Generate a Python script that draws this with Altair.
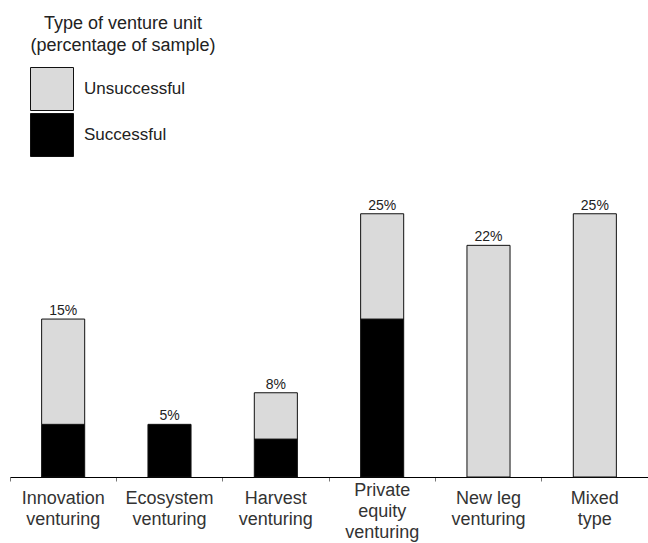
import altair as alt
import pandas as pd

# Venture unit types; "\n" marks where the axis label wraps
categories = [
    "Innovation\nventuring",
    "Ecosystem\nventuring",
    "Harvest\nventuring",
    "Private\nequity\nventuring",
    "New leg\nventuring",
    "Mixed\ntype",
]
# Share of the sample for each type (%), and the successful part of it
totals = [15, 5, 8, 25, 22, 25]
successful = [5, 5, 3.6, 15, 0, 0]

outcomes = ["Unsuccessful", "Successful"]
colors = ["#dadada", "#000000"]

rows = []
for cat, tot, suc in zip(categories, totals, successful):
    parts = {"Successful": suc, "Unsuccessful": tot - suc}
    for k, name in enumerate(["Successful", "Unsuccessful"]):
        if parts[name] > 0:
            rows.append({"category": cat, "outcome": name, "value": parts[name], "stack_order": k})
df = pd.DataFrame(rows)

labels = pd.DataFrame({
    "category": categories,
    "total": totals,
    "label": [f"{t}%" for t in totals],
})

font = "Liberation Sans"

x_enc = alt.X(
    "category:N",
    sort=categories,
    scale=alt.Scale(paddingInner=0, paddingOuter=0),
    axis=alt.Axis(
        title=None,
        labelAngle=0,
        labelExpr="split(datum.label, '\\n')",
        labelFont=font,
        labelFontSize=18,
        labelColor="#333333",
        labelBaseline="top",
        labelLineHeight=21,
        # three-line label sits a little higher so it stays centred
        labelPadding=alt.condition("indexof(datum.label, 'equity') >= 0", alt.value(0), alt.value(8)),
        labelLimit=0,
        bandPosition=0,
        ticks=True,
        tickSize=4,
        tickColor="#777777",
        domainColor="#000000",
        domainWidth=1,
        grid=False,
    ),
)
y_scale = alt.Scale(domain=[0, 45.3], nice=False, zero=True)

bars = alt.Chart(df).mark_bar(
    width=alt.RelativeBandSize(0.405), stroke="#111111", strokeWidth=1
).encode(
    x=x_enc,
    y=alt.Y("value:Q", stack="zero", scale=y_scale, axis=None),
    color=alt.Color(
        "outcome:N",
        scale=alt.Scale(domain=outcomes, range=colors),
        legend=alt.Legend(
            title=["Type of venture unit", "(percentage of sample)"],
            orient="none",
            legendX=20,
            legendY=15,
            padding=0,
            titleFont=font,
            titleFontSize=18,
            titleFontWeight="normal",
            titleColor="#222222",
            titleAnchor="middle",
            titleLineHeight=22,
            titlePadding=12,
            titleLimit=0,
            symbolType="square",
            symbolSize=1849,
            symbolStrokeColor="#111111",
            symbolStrokeWidth=1,
            symbolOpacity=1,
            symbolOffset=-31,
            rowPadding=-8,
            labelFont=font,
            labelFontSize=17,
            labelColor="#222222",
            labelOffset=10,
        ),
    ),
    order=alt.Order("stack_order:Q"),
)

text = alt.Chart(labels).mark_text(
    baseline="bottom", dy=-1, font=font, fontSize=14, color="#222222"
).encode(
    x=alt.X("category:N", sort=categories),
    y=alt.Y("total:Q", scale=y_scale, axis=None),
    text="label:N",
)

chart = alt.layer(bars, text).properties(
    width=638,
    height=477,
    padding={"left": 10, "top": 0, "right": 0, "bottom": 66},
    autosize=alt.AutoSizeParams(type="none"),
    background="white",
).configure_view(stroke=None)

chart.save("out.html", embed_options={"renderer": "svg", "actions": False})
